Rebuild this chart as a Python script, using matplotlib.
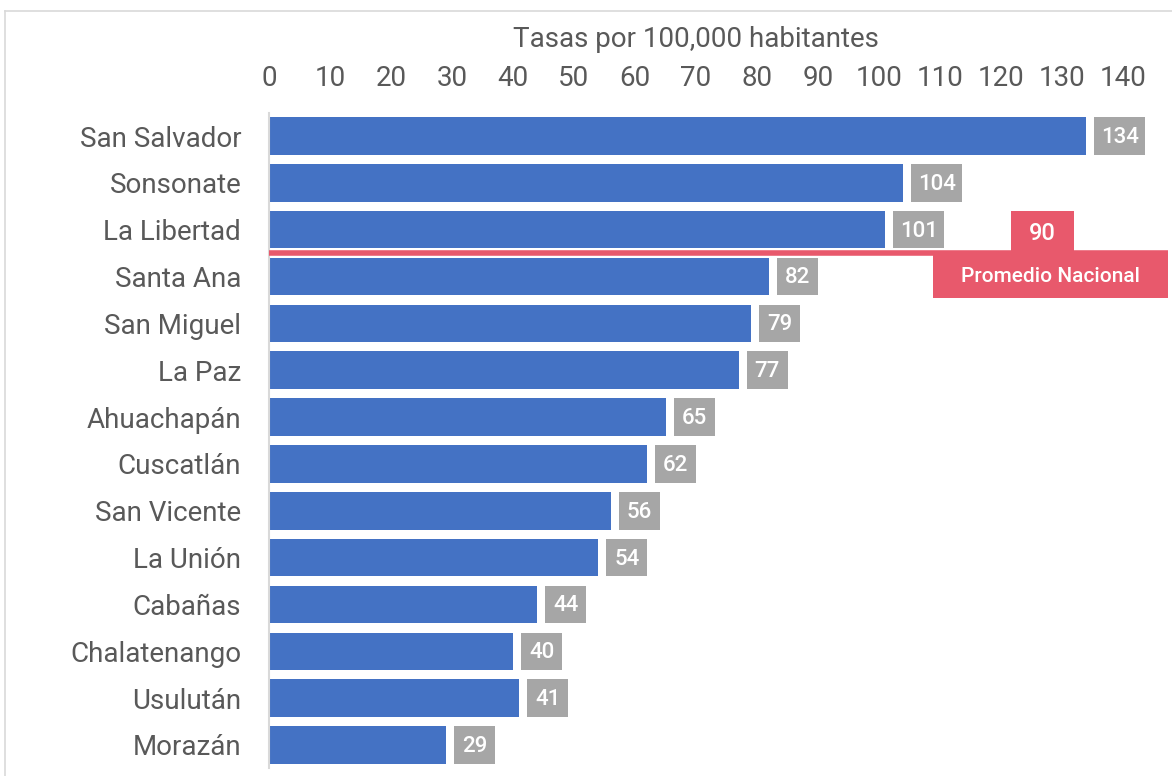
import matplotlib
matplotlib.use("Agg")
import matplotlib.pyplot as plt
from matplotlib.patches import Rectangle
from matplotlib.lines import Line2D

# ---- data ----
departamentos = ["San Salvador", "Sonsonate", "La Libertad", "Santa Ana", "San Miguel",
                 "La Paz", "Ahuachapán", "Cuscatlán", "San Vicente", "La Unión",
                 "Cabañas", "Chalatenango", "Usulután", "Morazán"]
tasas = [134, 104, 101, 82, 79, 77, 65, 62, 56, 54, 44, 40, 41, 29]
promedio_nacional = 90
promedio_label = "Promedio Nacional"
x_ticks = list(range(0, 141, 10))
x_title = "Tasas por 100,000 habitantes"

# ---- style ----
FONT = ["Roboto", "DejaVu Sans"]
plt.rcParams["font.family"] = FONT
BAR = "#4472C4"
GREY_BOX = "#A6A6A6"
RED = "#E8596C"
TXT = "#595959"

W, H = 1172, 776
fig = plt.figure(figsize=(W / 100, H / 100), dpi=100)
fig.patch.set_facecolor("white")

# chart border (light grey)
fig.add_artist(Line2D([5 / W, 5 / W], [0, 1 - 11 / H], color="#D9D9D9", lw=1.2, transform=fig.transFigure))
fig.add_artist(Line2D([5 / W, 1], [1 - 11 / H, 1 - 11 / H], color="#D9D9D9", lw=1.2, transform=fig.transFigure))

ax = fig.add_axes([269 / W, 1 - 768.4 / H, (1123 - 269) / W, (768.4 - 112.6) / H])
n = len(departamentos)
ypos = list(range(n))
ax.barh(ypos, tasas, height=0.8, color=BAR, zorder=2)
ax.set_ylim(n - 0.5, -0.5)
ax.set_xlim(0, 140)

ax.xaxis.tick_top()
ax.xaxis.set_label_position("top")
ax.set_xticks(x_ticks)
ax.set_xticklabels([str(t) for t in x_ticks])
ax.tick_params(axis="x", length=0, pad=15, labelsize=20, labelcolor=TXT)
ax.set_yticks(ypos)
ax.set_yticklabels(departamentos)
ax.tick_params(axis="y", length=0, pad=20, labelsize=20, labelcolor=TXT)
ax.set_xlabel(x_title, fontsize=20, color=TXT, labelpad=13)

for s in ["top", "right", "bottom"]:
    ax.spines[s].set_visible(False)
ax.spines["left"].set_color("#D9D9D9")
ax.spines["left"].set_linewidth(1.5)

# value labels in grey boxes
px = (1123 - 269) / 140.0  # pixels per unit
for y, v in zip(ypos, tasas):
    lab = str(v)
    x0 = v + 8 / px
    w = (len(lab) * 10 + 21) / px
    ax.add_patch(Rectangle((x0, y - 0.4), w, 0.8, facecolor=GREY_BOX, edgecolor="none",
                           clip_on=False, zorder=3))
    ax.text(x0 + w / 2, y + 0.03, lab, ha="center", va="center", color="white",
            fontsize=16, fontweight="medium", zorder=4, clip_on=False)

# national average line and label
y_line = 2.5
x_right = (1168 - 269) / px
ax.plot([0, x_right], [y_line, y_line], color=RED, lw=4, solid_capstyle="butt",
        clip_on=False, zorder=5)
bx0, bx1 = (1011 - 269) / px, (1074 - 269) / px
ax.add_patch(Rectangle((bx0, 1.6), bx1 - bx0, y_line - 1.6, facecolor=RED, edgecolor="none",
                       clip_on=False, zorder=5))
ax.text((bx0 + bx1) / 2, 2.08, str(promedio_nacional), ha="center", va="center",
        color="white", fontsize=17, fontweight="medium", zorder=6)
px0 = (933 - 269) / px
ax.add_patch(Rectangle((px0, y_line), x_right - px0, 3.46 - y_line, facecolor=RED,
                       edgecolor="none", clip_on=False, zorder=5))
ax.text((px0 + x_right) / 2, 3.0, promedio_label, ha="center", va="center",
        color="white", fontsize=15, fontweight="medium", zorder=6, clip_on=False)

fig.savefig("out.png", dpi=100)
